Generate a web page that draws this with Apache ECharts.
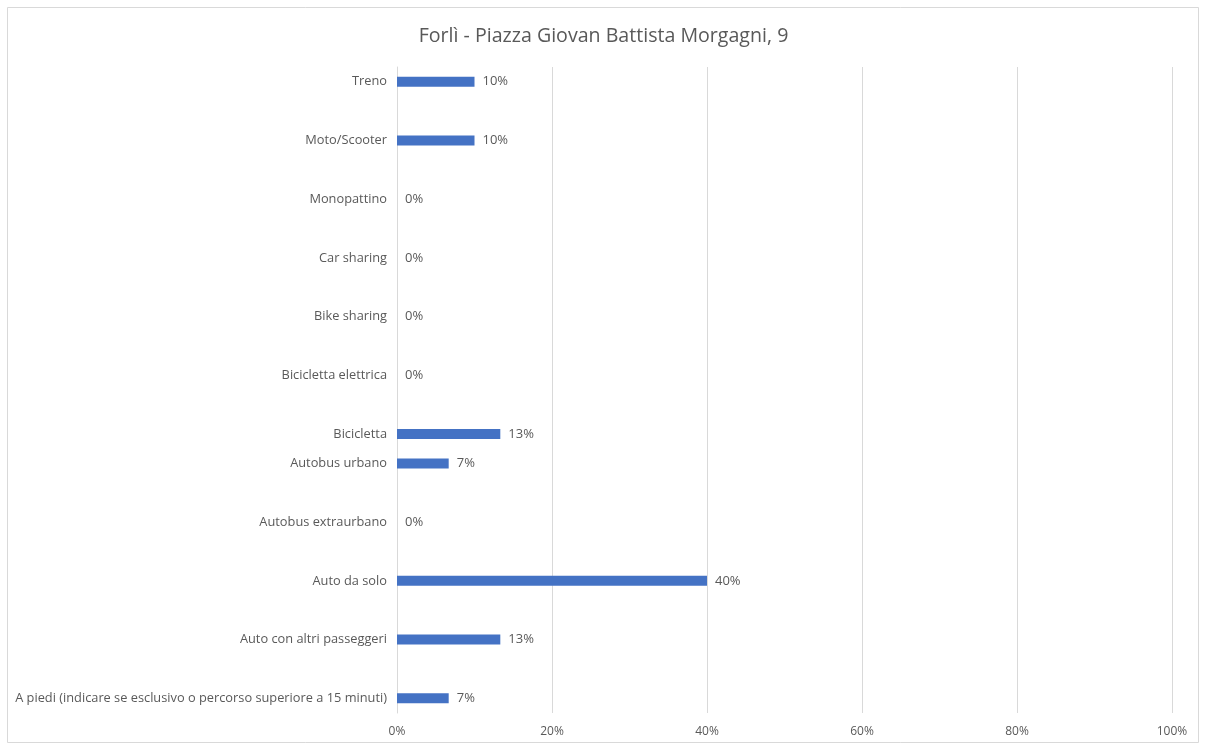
<!DOCTYPE html>
<html>
<head>
<meta charset="utf-8">
<script src="https://cdn.jsdelivr.net/npm/echarts@6/dist/echarts.min.js"></script>
<style>html,body{margin:0;padding:0;background:#fff}#c{width:1207px;height:745px}</style>
</head>
<body>
<div id="c"></div>
<script>
// Categories (top to bottom); '' entries are spacer rows in the original layout
const categories = ['Treno', '', 'Moto/Scooter', '', 'Monopattino', '', 'Car sharing', '', 'Bike sharing', '', 'Bicicletta elettrica', '', 'Bicicletta', 'Autobus urbano', '', 'Autobus extraurbano', '', 'Auto da solo', '', 'Auto con altri passeggeri', '', 'A piedi (indicare se esclusivo o percorso superiore a 15 minuti)'];
const values = [10, null, 10, null, 0, null, 0, null, 0, null, 0, null, 13.33, 6.67, null, 0, null, 40, null, 13.33, null, 6.67];
const xTicks = [0, 20, 40, 60, 80, 100];
const title = 'Forlì - Piazza Giovan Battista Morgagni, 9';

const chart = echarts.init(document.getElementById('c'), null, {renderer: 'canvas'});
const font = 'Open Sans';
chart.setOption({
  animation: false,
  backgroundColor: '#fff',
  title: {text: title, left: 'center', top: 21, textStyle: {fontFamily: font, fontSize: 19.6, fontWeight: 'normal', color: '#595959'}},
  graphic: [{type: 'rect', shape: {x: 7.5, y: 7.5, width: 1191, height: 735}, style: {fill: 'none', stroke: '#d9d9d9', lineWidth: 1}, silent: true}],
  grid: {left: 397, right: 35, top: 67, bottom: 32, containLabel: false},
  xAxis: {
    type: 'value', min: xTicks[0], max: xTicks[xTicks.length - 1], interval: 20,
    axisLine: {show: false}, axisTick: {show: false},
    splitLine: {lineStyle: {color: '#d9d9d9', width: 1}},
    axisLabel: {formatter: v => v + '%', color: '#595959', fontFamily: font, fontSize: 12, margin: 13}
  },
  yAxis: {
    type: 'category', data: categories, inverse: true,
    axisLine: {show: true, lineStyle: {color: '#d9d9d9'}}, axisTick: {show: false},
    axisLabel: {color: '#595959', fontFamily: font, fontSize: 12.8, margin: 10, interval: 0}
  },
  series: [{
    type: 'bar', data: values, barWidth: 10,
    itemStyle: {color: '#4472C4'},
    label: {show: true, position: 'right', distance: 8, color: '#595959', fontFamily: font, fontSize: 13,
      formatter: p => (p.value == null ? '' : Math.round(p.value) + '%')}
  }]
});
</script>
</body>
</html>
